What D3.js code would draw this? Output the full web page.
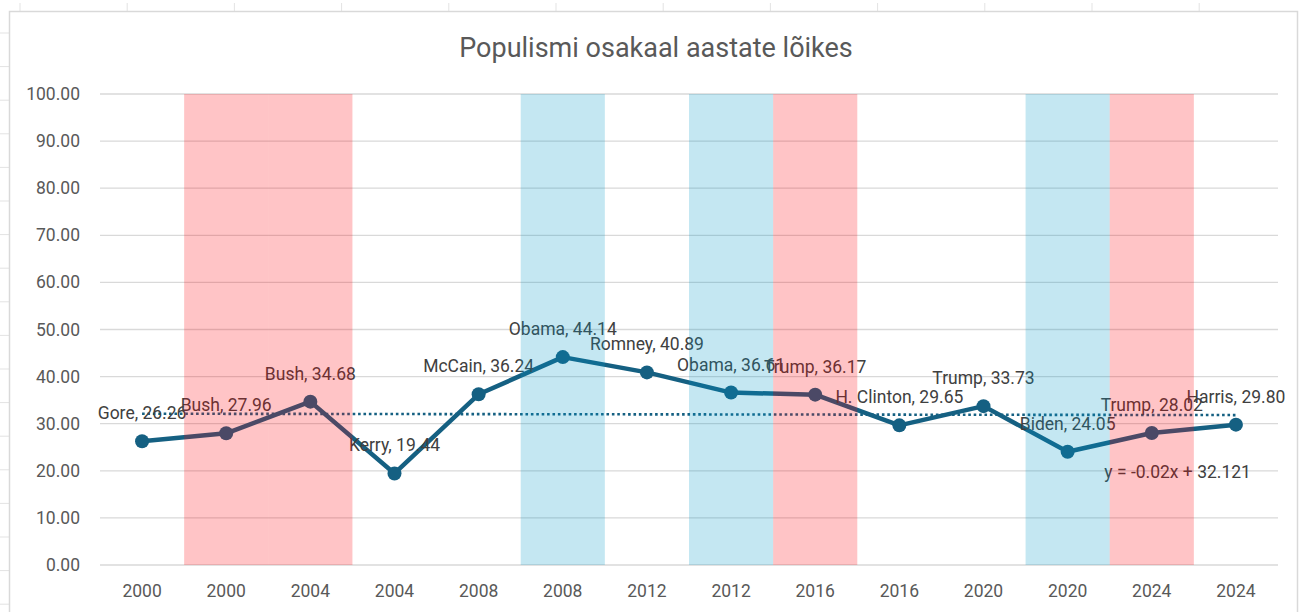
<!DOCTYPE html>
<html>
<head>
<meta charset="utf-8">
<script src="https://cdn.jsdelivr.net/npm/d3@7"></script>
<style>
  body { margin: 0; background: #fff; }
  text { font-family: Roboto, "Noto Sans", sans-serif; }
</style>
</head>
<body>
<div id="chart"></div>
<script>
// data
var years = ["2000", "2000", "2004", "2004", "2008", "2008", "2012", "2012", "2016", "2016", "2020", "2020", "2024", "2024"];
var candidates = ["Gore", "Bush", "Bush", "Kerry", "McCain", "Obama", "Romney", "Obama", "Trump", "H. Clinton", "Trump", "Biden", "Trump", "Harris"];
var values = [26.26, 27.96, 34.68, 19.44, 36.24, 44.14, 40.89, 36.61, 36.17, 29.65, 33.73, 24.05, 28.02, 29.80];
// shaded background columns (R = red, D = blue)
var shading = ["", "R", "R", "", "", "D", "", "D", "R", "", "", "D", "R", ""];
var yTicks = [0, 10, 20, 30, 40, 50, 60, 70, 80, 90, 100];
var title = "Populismi osakaal aastate lõikes";
var trendText = "y = -0.02x + 32.121";

var W = 1304, H = 612;
var lineColor = "#156082";

var svg = d3.select("#chart").append("svg")
  .attr("width", W)
  .attr("height", H);

// spreadsheet grid peeking out around the chart object
var deco = svg.append("g").attr("stroke", "#e3e3e3").attr("stroke-width", 1);
d3.range(20, W, 107.2).forEach(function(cx){
  deco.append("line").attr("x1", cx).attr("x2", cx).attr("y1", 3).attr("y2", 11);
});
d3.range(33, H, 33.6).forEach(function(cy){
  deco.append("line").attr("x1", 0).attr("x2", 9).attr("y1", cy).attr("y2", cy);
});

// chart frame
svg.append("rect")
  .attr("x", 9.5).attr("y", 11.5)
  .attr("width", 1288).attr("height", 640)
  .attr("fill", "#fff")
  .attr("stroke", "#d9d9d9")
  .attr("stroke-width", 1.5);

var x = d3.scaleBand()
  .domain(d3.range(values.length))
  .range([100, 1278]);

var y = d3.scaleLinear()
  .domain([0, 100])
  .range([565, 94]);

var bw = x.bandwidth();
function cx(i){ return x(i) + bw / 2; }

// title
svg.append("text")
  .attr("x", 656).attr("y", 57)
  .attr("text-anchor", "middle")
  .attr("font-size", 27)
  .attr("fill", "#595959")
  .text(title);

// gridlines
svg.append("g").selectAll("line")
  .data(yTicks)
  .enter()
  .append("line")
  .attr("x1", 100).attr("x2", 1278)
  .attr("y1", function(d){ return y(d); })
  .attr("y2", function(d){ return y(d); })
  .attr("stroke", "#d9d9d9")
  .attr("stroke-width", 1.3);

// y labels
svg.append("g").selectAll("text")
  .data(yTicks)
  .enter()
  .append("text")
  .attr("x", 80)
  .attr("y", function(d){ return y(d) + 6; })
  .attr("text-anchor", "end")
  .attr("font-size", 17.5)
  .attr("fill", "#595959")
  .text(function(d){ return d.toFixed(2); });

// x labels
svg.append("g").selectAll("text")
  .data(years)
  .enter()
  .append("text")
  .attr("x", function(d, i){ return cx(i); })
  .attr("y", 597)
  .attr("text-anchor", "middle")
  .attr("font-size", 17.5)
  .attr("fill", "#595959")
  .text(function(d){ return d; });

// linear trend (least squares over 1..n like Excel)
var n = values.length;
var xs = d3.range(1, n + 1);
var mx = d3.mean(xs), my = d3.mean(values);
var slope = d3.sum(xs, function(v, i){ return (v - mx) * (values[i] - my); }) /
            d3.sum(xs, function(v){ return (v - mx) * (v - mx); });
var intercept = my - slope * mx;

svg.append("line")
  .attr("x1", cx(0)).attr("x2", cx(n - 1))
  .attr("y1", y(intercept + slope * 1))
  .attr("y2", y(intercept + slope * n))
  .attr("stroke", lineColor)
  .attr("stroke-width", 2.6)
  .attr("stroke-dasharray", "2.6,2.8");

// main line
var line = d3.line()
  .x(function(d, i){ return cx(i); })
  .y(function(d){ return y(d); });

svg.append("path")
  .datum(values)
  .attr("d", line)
  .attr("fill", "none")
  .attr("stroke", lineColor)
  .attr("stroke-width", 4.5)
  .attr("stroke-linejoin", "round");

svg.append("g").selectAll("circle")
  .data(values)
  .enter()
  .append("circle")
  .attr("cx", function(d, i){ return cx(i); })
  .attr("cy", function(d){ return y(d); })
  .attr("r", 7)
  .attr("fill", lineColor);

// data labels
svg.append("g").selectAll("text")
  .data(values)
  .enter()
  .append("text")
  .attr("x", function(d, i){ return cx(i); })
  .attr("y", function(d){ return y(d) - 22; })
  .attr("text-anchor", "middle")
  .attr("font-size", 17.5)
  .attr("fill", "#404040")
  .text(function(d, i){ return candidates[i] + ", " + d.toFixed(2); });

// trend equation
svg.append("text")
  .attr("x", cx(n - 1) + 15)
  .attr("y", y(intercept + slope * n) + 63)
  .attr("text-anchor", "end")
  .attr("font-size", 17.5)
  .attr("fill", "#404040")
  .text(trendText);

// translucent party columns over everything
svg.append("g").selectAll("rect")
  .data(shading.map(function(s, i){ return {s: s, i: i}; }).filter(function(d){ return d.s; }))
  .enter()
  .append("rect")
  .attr("x", function(d){ return x(d.i); })
  .attr("y", y(100))
  .attr("width", bw)
  .attr("height", y(0) - y(100))
  .attr("fill", function(d){ return d.s == "R" ? "rgb(255,0,10)" : "rgb(0,150,200)"; })
  .attr("fill-opacity", 0.23);
</script>
</body>
</html>
